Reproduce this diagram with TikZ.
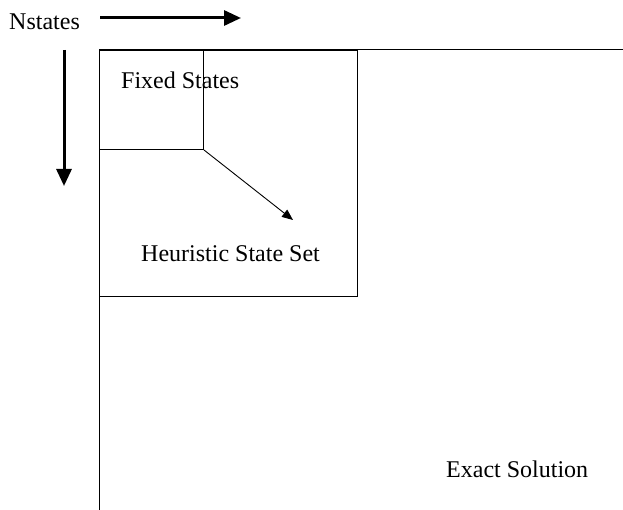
\documentclass[tikz,border=0pt]{standalone}
\usepackage{fontspec}
\setmainfont{Liberation Serif}
\usetikzlibrary{arrows.meta}
\begin{document}
\begin{tikzpicture}[x=1pt,y=-1pt,
  thinline/.style={line width=1pt,draw=black},
  bigarrow/.style={line width=3pt,-{Triangle[length=17pt,width=15pt]}},
  smallarrow/.style={line width=0.9pt,-{Triangle[length=11pt,width=9pt]}},
  lbl/.style={font=\fontsize{24}{28}\selectfont,inner sep=0pt,anchor=base west}]
\useasboundingbox (0,0) rectangle (623,510);
% axes of the state matrix
\coordinate (corner) at (99,50);
\coordinate (topend) at (623,50);
\coordinate (bottomend) at (99,510);
\draw[thinline] (bottomend) -- (corner) -- (topend);
% heuristic block and fixed block
\node[thinline,draw,minimum width=258pt,minimum height=246pt,inner sep=0pt,anchor=north west] (heur) at (99,50) {};
\node[thinline,draw,minimum width=104pt,minimum height=99pt,inner sep=0pt,anchor=north west] (fixed) at (99,50) {};
% growth direction
\coordinate (grow) at (293,220);
\draw[smallarrow] (fixed.south east) -- (grow);
% Nstates direction arrows
\coordinate (hs) at (100,18);
\coordinate (he) at (241,18);
\coordinate (vs) at (64,50);
\coordinate (ve) at (64,186);
\draw[bigarrow] (hs) -- (he);
\draw[bigarrow] (vs) -- (ve);
% labels
\node[lbl] (ns) at (9,30) {Nstates};
\node[lbl] (fs) at (121,89) {Fixed States};
\node[lbl] (hss) at (141,262) {Heuristic State Set};
\node[lbl] (es) at (446,477) {Exact Solution};
\end{tikzpicture}
\end{document}
